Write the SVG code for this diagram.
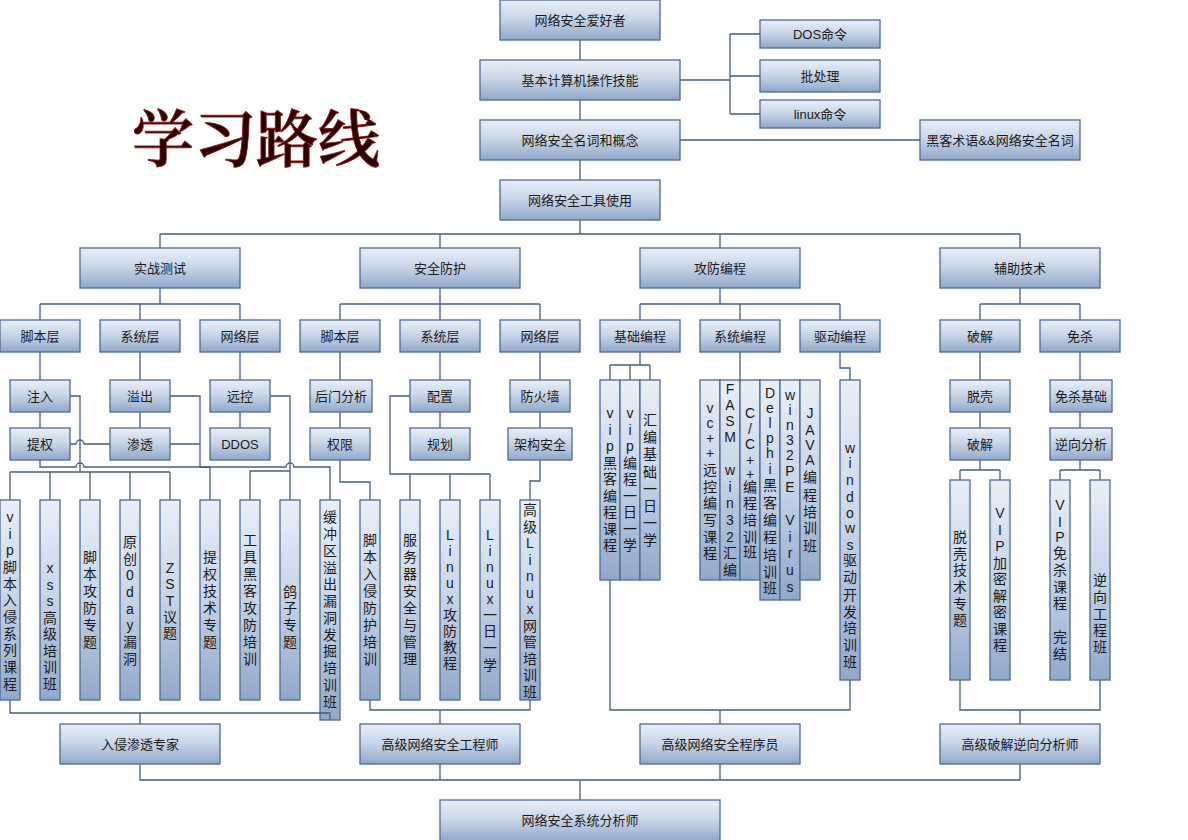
<svg xmlns="http://www.w3.org/2000/svg" width="1188" height="840" viewBox="0 0 1188 840">
<defs>
<linearGradient id="g" x1="0" y1="0" x2="0" y2="1">
<stop offset="0" stop-color="#e8eff8"/>
<stop offset="0.45" stop-color="#c9d7ea"/>
<stop offset="1" stop-color="#90a8cb"/>
</linearGradient>
<style>
.b{fill:url(#g);stroke:#4f6a8c;stroke-width:1.3}
.t{font-family:"Liberation Sans","Noto Sans CJK SC",sans-serif;font-size:13px;fill:#1a1a1a;text-anchor:middle;dominant-baseline:central}
.v{font-family:"Liberation Sans","Noto Sans CJK SC",sans-serif;font-size:14px;fill:#1a1a1a;text-anchor:middle;dominant-baseline:central}
.c{fill:none;stroke:#4a5f78;stroke-width:1.3}
.title{font-family:"Noto Serif CJK SC","Noto Sans CJK SC",serif;font-size:62px;font-weight:600;fill:#2a0202;stroke:#8e1212;stroke-width:0.8;text-anchor:middle}
</style>
</defs>
<rect width="1188" height="840" fill="#ffffff"/>
<text class="title" x="256" y="162">学习路线</text>

<g id="n-aihao"><rect class="b" x="500" y="0" width="160" height="40"/><text class="t" x="580" y="20">网络安全爱好者</text></g>
<g id="n-jiben"><rect class="b" x="480" y="60" width="200" height="40"/><text class="t" x="580" y="80">基本计算机操作技能</text></g>
<g id="n-mingci"><rect class="b" x="480" y="120" width="200" height="40"/><text class="t" x="580" y="140">网络安全名词和概念</text></g>
<g id="n-gongju"><rect class="b" x="500" y="180" width="160" height="40"/><text class="t" x="580" y="200">网络安全工具使用</text></g>
<g id="n-dos"><rect class="b" x="760" y="20" width="120" height="28"/><text class="t" x="820" y="34">DOS命令</text></g>
<g id="n-pichuli"><rect class="b" x="760" y="60" width="120" height="32"/><text class="t" x="820" y="76">批处理</text></g>
<g id="n-linux"><rect class="b" x="760" y="100" width="120" height="28"/><text class="t" x="820" y="114">linux命令</text></g>
<g id="n-heike"><rect class="b" x="920" y="120" width="160" height="40"/><text class="t" x="1000" y="140">黑客术语&amp;&amp;网络安全名词</text></g>

<g id="n-shizhan"><rect class="b" x="80" y="248" width="160" height="40"/><text class="t" x="160" y="268">实战测试</text></g>
<g id="n-fanghu"><rect class="b" x="360" y="248" width="160" height="40"/><text class="t" x="440" y="268">安全防护</text></g>
<g id="n-biancheng"><rect class="b" x="640" y="248" width="160" height="40"/><text class="t" x="720" y="268">攻防编程</text></g>
<g id="n-fuzhu"><rect class="b" x="940" y="248" width="160" height="40"/><text class="t" x="1020" y="268">辅助技术</text></g>

<g id="n-s-jiaoben"><rect class="b" x="0" y="320" width="80" height="32"/><text class="t" x="40" y="336">脚本层</text></g>
<g id="n-s-xitong"><rect class="b" x="100" y="320" width="80" height="32"/><text class="t" x="140" y="336">系统层</text></g>
<g id="n-s-wangluo"><rect class="b" x="200" y="320" width="80" height="32"/><text class="t" x="240" y="336">网络层</text></g>
<g id="n-f-jiaoben"><rect class="b" x="300" y="320" width="80" height="32"/><text class="t" x="340" y="336">脚本层</text></g>
<g id="n-f-xitong"><rect class="b" x="400" y="320" width="80" height="32"/><text class="t" x="440" y="336">系统层</text></g>
<g id="n-f-wangluo"><rect class="b" x="500" y="320" width="80" height="32"/><text class="t" x="540" y="336">网络层</text></g>
<g id="n-jichu"><rect class="b" x="600" y="320" width="80" height="32"/><text class="t" x="640" y="336">基础编程</text></g>
<g id="n-xitongbc"><rect class="b" x="700" y="320" width="80" height="32"/><text class="t" x="740" y="336">系统编程</text></g>
<g id="n-qudong"><rect class="b" x="800" y="320" width="80" height="32"/><text class="t" x="840" y="336">驱动编程</text></g>
<g id="n-pojie"><rect class="b" x="940" y="320" width="80" height="32"/><text class="t" x="980" y="336">破解</text></g>
<g id="n-miansha"><rect class="b" x="1040" y="320" width="80" height="32"/><text class="t" x="1080" y="336">免杀</text></g>

<g id="n-zhuru"><rect class="b" x="10" y="380" width="60" height="32"/><text class="t" x="40" y="396">注入</text></g>
<g id="n-yichu"><rect class="b" x="110" y="380" width="60" height="32"/><text class="t" x="140" y="396">溢出</text></g>
<g id="n-yuankong"><rect class="b" x="210" y="380" width="60" height="32"/><text class="t" x="240" y="396">远控</text></g>
<g id="n-houmen"><rect class="b" x="310" y="380" width="62" height="32"/><text class="t" x="341" y="396">后门分析</text></g>
<g id="n-peizhi"><rect class="b" x="410" y="380" width="60" height="32"/><text class="t" x="440" y="396">配置</text></g>
<g id="n-fanghuoqiang"><rect class="b" x="510" y="380" width="60" height="32"/><text class="t" x="540" y="396">防火墙</text></g>
<g id="n-tuoke"><rect class="b" x="950" y="380" width="60" height="32"/><text class="t" x="980" y="396">脱壳</text></g>
<g id="n-mianshajichu"><rect class="b" x="1050" y="380" width="62" height="32"/><text class="t" x="1081" y="396">免杀基础</text></g>

<g id="n-tiquan"><rect class="b" x="10" y="428" width="60" height="32"/><text class="t" x="40" y="444">提权</text></g>
<g id="n-shentou"><rect class="b" x="110" y="428" width="60" height="32"/><text class="t" x="140" y="444">渗透</text></g>
<g id="n-ddos"><rect class="b" x="210" y="428" width="60" height="32"/><text class="t" x="240" y="444">DDOS</text></g>
<g id="n-quanxian"><rect class="b" x="310" y="428" width="60" height="32"/><text class="t" x="340" y="444">权限</text></g>
<g id="n-guihua"><rect class="b" x="410" y="428" width="60" height="32"/><text class="t" x="440" y="444">规划</text></g>
<g id="n-jiagou"><rect class="b" x="508" y="428" width="64" height="32"/><text class="t" x="540" y="444">架构安全</text></g>
<g id="n-pojie2"><rect class="b" x="950" y="428" width="60" height="32"/><text class="t" x="980" y="444">破解</text></g>
<g id="n-nixiang"><rect class="b" x="1050" y="428" width="62" height="32"/><text class="t" x="1081" y="444">逆向分析</text></g>

<g id="n-v1"><rect class="b" x="0" y="500" width="20" height="200"/><text class="v" x="10 10 10 10 10 10 10 10 10 10 10" y="517 533.5 550 567 583.5 600 617 633.5 650 667 683.5">vip脚本入侵系列课程</text></g>
<g id="n-v2"><rect class="b" x="40" y="500" width="20" height="200"/><text class="v" x="50 50 50 50 50 50 50 50" y="568 584.5 601 617.5 634 650.5 667 683.5">xss高级培训班</text></g>
<g id="n-v3"><rect class="b" x="80" y="500" width="20" height="200"/><text class="v" x="90 90 90 90 90 90" y="557 574 591 608 625 642">脚本攻防专题</text></g>
<g id="n-v4"><rect class="b" x="120" y="500" width="20" height="200"/><text class="v" x="130 130 130 130 130 130 130 130" y="542 558.5 575 592 608.5 625 642 658.5">原创0day漏洞</text></g>
<g id="n-v5"><rect class="b" x="160" y="500" width="20" height="200"/><text class="v" x="170 170 170 170 170" y="568 584 600.5 617 633">ZST议题</text></g>
<g id="n-v6"><rect class="b" x="200" y="500" width="20" height="200"/><text class="v" x="210 210 210 210 210 210" y="557 574 591 608 625 642">提权技术专题</text></g>
<g id="n-v7"><rect class="b" x="240" y="500" width="20" height="200"/><text class="v" x="250 250 250 250 250 250 250 250" y="540 557 574 591 607.5 624.5 641.5 658.5">工具黑客攻防培训</text></g>
<g id="n-v8"><rect class="b" x="280" y="500" width="20" height="200"/><text class="v" x="290 290 290 290" y="591.5 608 625 641.5">鸽子专题</text></g>
<g id="n-v9"><rect class="b" x="320" y="500" width="20" height="220"/><text class="v" x="330 330 330 330 330 330 330 330 330 330 330 330" y="517 534 550.5 567.5 584 601 618 634.5 651 668 684.5 701.5">缓冲区溢出漏洞发掘培训班</text></g>
<g id="n-v10"><rect class="b" x="360" y="500" width="20" height="200"/><text class="v" x="370 370 370 370 370 370 370 370" y="540 557 574 591 607.5 624.5 641.5 658.5">脚本入侵防护培训</text></g>
<g id="n-v11"><rect class="b" x="400" y="500" width="20" height="200"/><text class="v" x="410 410 410 410 410 410 410 410" y="540 557 574 591 607.5 624.5 641.5 658.5">服务器安全与管理</text></g>
<g id="n-v12"><rect class="b" x="440" y="500" width="20" height="200"/><text class="v" x="450 450 450 450 450 450 450 450 450" y="535 551 567 583 599 615 631 647 663">Linux攻防教程</text></g>
<g id="n-v13"><rect class="b" x="480" y="500" width="20" height="200"/><text class="v" x="490 490 490 490 490 490 490 490 490" y="535 551 567 583 599 615 631 648 665">Linux一日一学</text></g>
<g id="n-v14"><rect class="b" x="520" y="500" width="20" height="200"/><text class="v" x="530 530 530 530 530 530 530 530 530 530 530 530" y="510 526.5 543 559.5 576 592.5 609 625.5 642 658.5 675 691.5">高级Linux网管培训班</text></g>

<g id="n-v15"><rect class="b" x="600" y="380" width="20" height="200"/><text class="v" x="610 610 610 610 610 610 610 610 610" y="413 429.5 446 462.5 479 495.5 512 528.5 545">vip黑客编程课程</text></g>
<g id="n-v16"><rect class="b" x="620" y="380" width="20" height="200"/><text class="v" x="630 630 630 630 630 630 630 630 630" y="413 429.5 446 462.5 479 495.5 512 528.5 545">vip编程一日一学</text></g>
<g id="n-v17"><rect class="b" x="640" y="380" width="20" height="200"/><text class="v" x="650 650 650 650 650 650 650 650" y="420 437 454 471.5 488.5 505.5 522.5 540">汇编基础一日一学</text></g>
<g id="n-v18"><rect class="b" x="700" y="380" width="20" height="200"/><text class="v" x="710 710 710 710 710 710 710 710 710 710" y="408 423 438 453 470 486.5 503 520 537 553">vc++远控编写课程</text></g>
<g id="n-v19"><rect class="b" x="720" y="380" width="20" height="200"/><text class="v" x="730 730 730 730 730 730 730 730 730 730 730 730" y="389 405 421 437 454 470 487 503 520 536.5 553 569.5">FASM win32汇编</text></g>
<g id="n-v20"><rect class="b" x="740" y="380" width="20" height="200"/><text class="v" x="750 750 750 750 750 750 750 750 750 750" y="413 429 444 460 474 487 503 520 537 552">C/C++编程培训班</text></g>
<g id="n-v21"><rect class="b" x="760" y="380" width="20" height="220"/><text class="v" x="770 770 770 770 770 770 770 770 770 770 770 770 770" y="393 408 423 438 453 469 485 503 520 537 555 572 588">Delphi黑客编程培训班</text></g>
<g id="n-v22"><rect class="b" x="780" y="380" width="20" height="220"/><text class="v" x="790 790 790 790 790 790 790 790 790 790 790 790 790" y="395 410 425 440 455 471 487 503 520 537 553 570 587">win32PE Virus</text></g>
<g id="n-v23"><rect class="b" x="800" y="380" width="20" height="200"/><text class="v" x="810 810 810 810 810 810 810 810 810" y="413 430 445 460 477 495 511.5 528 546">JAVA编程培训班</text></g>
<g id="n-v24"><rect class="b" x="840" y="380" width="20" height="300"/><text class="v" x="850 850 850 850 850 850 850 850 850 850 850 850 850 850" y="448 463 480 496.5 513 528 545 560 577 595 612 628 645 662">windows驱动开发培训班</text></g>

<g id="n-v25"><rect class="b" x="950" y="480" width="20" height="200"/><text class="v" x="960 960 960 960 960 960" y="537 553.5 570 587 603.5 620">脱壳技术专题</text></g>
<g id="n-v26"><rect class="b" x="990" y="480" width="20" height="200"/><text class="v" x="1000 1000 1000 1000 1000 1000 1000 1000 1000" y="513 529.5 546 562.5 579 595.5 612 628.5 645">VIP加密解密课程</text></g>
<g id="n-v27"><rect class="b" x="1050" y="480" width="20" height="200"/><text class="v" x="1060 1060 1060 1060 1060 1060 1060 1060 1060 1060" y="505 521.5 537 553 570 587 603 620 637 653.5">VIP免杀课程 完结</text></g>
<g id="n-v28"><rect class="b" x="1090" y="480" width="20" height="200"/><text class="v" x="1100 1100 1100 1100 1100" y="580 597 613.5 630 647">逆向工程班</text></g>

<g id="n-ruqin"><rect class="b" x="60" y="724" width="160" height="40"/><text class="t" x="140" y="744">入侵渗透专家</text></g>
<g id="n-gcs"><rect class="b" x="360" y="724" width="160" height="40"/><text class="t" x="440" y="744">高级网络安全工程师</text></g>
<g id="n-cxy"><rect class="b" x="640" y="724" width="160" height="40"/><text class="t" x="720" y="744">高级网络安全程序员</text></g>
<g id="n-fxs"><rect class="b" x="940" y="724" width="160" height="40"/><text class="t" x="1020" y="744">高级破解逆向分析师</text></g>
<g id="n-xitongfxs"><rect class="b" x="440" y="800" width="280" height="42"/><text class="t" x="580" y="820">网络安全系统分析师</text></g>

<g id="connectors" class="c">
<path d="M580,40 V60 M580,100 V120 M580,160 V180 M680,80 H730 M730,34 V114 M730,34 H760 M730,76 H760 M730,114 H760 M680,140 H920"/>
<path d="M580,220 V234 M160,234 H1020 M160,234 V248 M440,234 V248 M720,234 V248 M1020,234 V248"/>
<path d="M160,288 V304 M40,304 H240 M40,304 V320 M140,304 V320 M240,304 V320"/>
<path d="M440,288 V304 M340,304 H540 M340,304 V320 M440,304 V320 M540,304 V320"/>
<path d="M720,288 V304 M640,304 H840 M640,304 V320 M740,304 V320 M840,304 V320"/>
<path d="M1020,288 V304 M980,304 H1080 M980,304 V320 M1080,304 V320"/>
<path d="M40,352 V380 M140,352 V380 M240,352 V380 M340,352 V380 M440,352 V380 M540,352 V380 M980,352 V380 M1080,352 V380"/>
<path d="M40,412 V428 M140,412 V428 M240,412 V428 M340,412 V428 M440,412 V428 M540,412 V428 M980,412 V428 M1080,412 V428"/>
<path d="M640,352 V365 M610,365 H650 M610,365 V380 M630,365 V380 M650,365 V380 M740,352 V380 M840,352 V368 H850 V380"/>
<path d="M980,460 V470 M960,470 H1000 M960,470 V480 M1000,470 V480 M1080,460 V470 M1060,470 H1100 M1060,470 V480 M1100,470 V480"/>
<path d="M70,396 H80 V472 M10,472 H170 M10,472 V500 M50,472 V500 M90,472 V500 M130,472 V500 M170,472 V500"/>
<path d="M70,444 H76 A4,4 0 0 1 84,444 H110"/>
<path d="M170,396 H200 V467 H210 V500 M170,444 H200"/>
<path d="M40,460 V467 H76 A4,4 0 0 1 84,467 H286 A4,4 0 0 1 294,467 H330 V500"/>
<path d="M270,396 H290 V500 M290,471 H250 V500"/>
<path d="M340,460 V482 H370 V500"/>
<path d="M410,396 H390 V474 H490 M410,474 V500 M450,474 V500 M490,474 V500"/>
<path d="M540,460 V481 H530 V500"/>
<path d="M10,700 V713 H330 V720 M140,713 V724"/>
<path d="M370,700 V710 H530 V700 M440,710 V724"/>
<path d="M610,580 V710 H850 V680 M720,710 V724"/>
<path d="M960,680 V710 H1100 V680 M1020,710 V724"/>
<path d="M140,764 V780 H1020 M440,764 V780 M720,764 V780 M1020,764 V780 M580,780 V800"/>
</g>
</svg>
